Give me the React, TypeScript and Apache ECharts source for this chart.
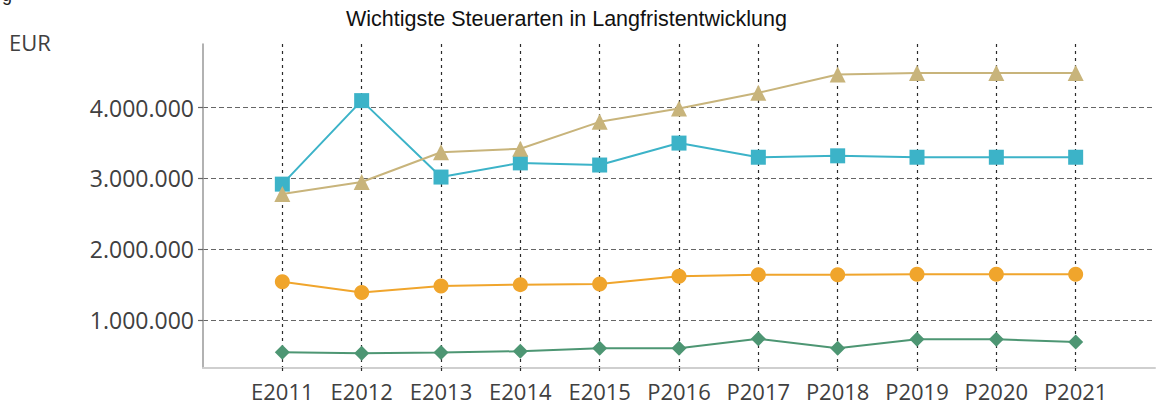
import React, { useEffect, useRef } from "react";
import * as echarts from "echarts";

const categories = ["E2011", "E2012", "E2013", "E2014", "E2015", "P2016", "P2017", "P2018", "P2019", "P2020", "P2021"];
const seriesTeal = [2920000, 4100000, 3020000, 3220000, 3190000, 3500000, 3300000, 3320000, 3300000, 3300000, 3300000];
const seriesKhaki = [2780000, 2950000, 3370000, 3420000, 3800000, 3990000, 4210000, 4470000, 4490000, 4490000, 4490000];
const seriesOrange = [1540000, 1390000, 1480000, 1500000, 1510000, 1620000, 1640000, 1640000, 1645000, 1645000, 1645000];
const seriesGreen = [543000, 530000, 540000, 560000, 600000, 600000, 735000, 600000, 727000, 727000, 690000];
const yTicks = [1000000, 2000000, 3000000, 4000000];

const fmt = (v: number) => String(Math.round(v)).replace(/\B(?=(\d{3})+(?!\d))/g, ".");

export default function App() {
  const ref = useRef<HTMLDivElement>(null);
  useEffect(() => {
    document.body.style.margin = "0";
    const chart = echarts.init(ref.current!, null, { renderer: "svg" });
    const idx = categories.map((_, i) => i);
    const mk = (vals: number[]) => vals.map((v, i) => [i, v]);
    const lineSeries = (name: string, vals: number[], color: string, symbol: string, size: number) => ({
      name,
      type: "line",
      data: mk(vals),
      symbol,
      symbolSize: size,
      lineStyle: { color, width: 2 },
      itemStyle: { color },
    });
    chart.setOption({
      animation: false,
      grid: { left: 203, right: 5, top: 44, bottom: 37, containLabel: false },
      xAxis: {
        type: "value",
        min: -1,
        max: 11,
        axisLine: { onZero: false, lineStyle: { color: "#cfcfcf", width: 2 } },
        axisTick: { customValues: idx, length: 6, lineStyle: { color: "#2a2a2a", type: [3, 4], width: 1.2 } },
        axisLabel: {
          customValues: idx,
          formatter: (v: number) => categories[v] ?? "",
          fontFamily: "Open Sans",
          fontSize: 22,
          color: "#404040",
          margin: 12,
        },
        splitLine: { show: true, lineStyle: { color: "#2a2a2a", type: [3, 4], width: 1.2 } },
      },
      yAxis: {
        type: "value",
        min: 322000,
        max: 4900000,
        axisLine: { show: true, onZero: false, lineStyle: { color: "#999", width: 1.5 } },
        axisTick: { show: true, customValues: yTicks, length: 5, lineStyle: { color: "#666", type: [5, 3], width: 1.2 } },
        axisLabel: {
          customValues: yTicks,
          formatter: (v: number) => fmt(v),
          fontFamily: "Open Sans",
          fontSize: 23,
          color: "#404040",
          margin: 9,
        },
        splitLine: { show: true, lineStyle: { color: "#666", type: [5, 3], width: 1.2 } },
      },
      graphic: [
        {
          type: "text",
          left: 346,
          top: 8,
          style: { text: "Wichtigste Steuerarten in Langfristentwicklung", fontFamily: "Liberation Sans", fontSize: 21.5, fill: "#111" },
        },
        {
          type: "text",
          left: 9,
          top: 31,
          style: { text: "EUR", fontFamily: "Open Sans", fontSize: 22, fill: "#404040" },
        },
        {
          type: "text",
          left: 2,
          top: -14,
          style: { text: "g", fontFamily: "Liberation Sans", fontSize: 18, fill: "#222" },
        },
      ],
      series: [
        lineSeries("Green", seriesGreen, "#4D9673", "diamond", 15),
        lineSeries("Orange", seriesOrange, "#F0A52C", "circle", 15),
        lineSeries("Teal", seriesTeal, "#3CB3C8", "rect", 15),
        lineSeries("Khaki", seriesKhaki, "#C8B47B", "triangle", 16),
      ],
    });
    return () => chart.dispose();
  }, []);
  return <div ref={ref} style={{ width: 1160, height: 405 }} />;
}
